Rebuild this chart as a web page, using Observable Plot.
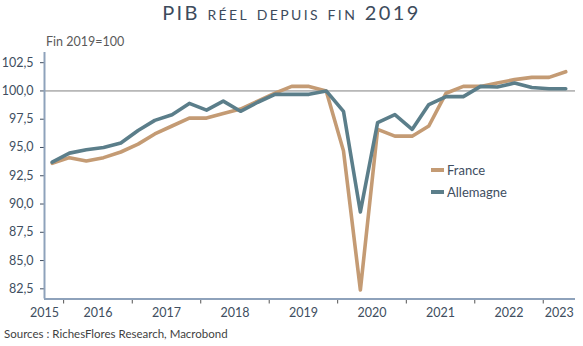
<!DOCTYPE html>
<html><head><meta charset="utf-8">
<script src="https://cdn.jsdelivr.net/npm/d3@7"></script>
<script src="https://cdn.jsdelivr.net/npm/@observablehq/plot@0.6"></script>
<style>
body{margin:0;background:#fff;}
#wrap{position:relative;width:583px;height:346px;overflow:hidden;font-family:Lato,"Open Sans",sans-serif;background:#fff;}
#chart{position:absolute;left:0;top:0;}
#title{position:absolute;left:0;top:0px;width:583px;text-align:center;font-family:Lato,sans-serif;font-size:20px;font-variant:small-caps;letter-spacing:2.4px;color:#3d4b5c;}
#sub{position:absolute;left:46px;top:34px;font-size:12.5px;color:#5a5a5a;}
#src{position:absolute;left:4px;top:327px;font-size:11.5px;color:#3f3f3f;}
.leg{position:absolute;left:431px;font-size:13px;color:#404e5f;display:flex;align-items:center;}
.leg span.sw{display:inline-block;width:13px;height:4px;margin-right:3px;}
</style>
</head><body>
<div id="wrap">
  <div id="chart"></div>
  <div id="title">PIB réel depuis fin 2019</div>
  <div id="sub">Fin 2019=100</div>
  <div id="src">Sources : RichesFlores Research, Macrobond</div>
  <div id="legend"></div>
</div>
<script>
const quarters = ["2015T4",
  "2016T1","2016T2","2016T3","2016T4",
  "2017T1","2017T2","2017T3","2017T4",
  "2018T1","2018T2","2018T3","2018T4",
  "2019T1","2019T2","2019T3","2019T4",
  "2020T1","2020T2","2020T3","2020T4",
  "2021T1","2021T2","2021T3","2021T4",
  "2022T1","2022T2","2022T3","2022T4",
  "2023T1","2023T2"];
const france = [93.6, 94.1, 93.8, 94.1, 94.6, 95.3, 96.2, 96.9, 97.6, 97.6, 98.0, 98.4, 99.1, 99.8, 100.4, 100.4,
  100.0, 94.7, 82.4, 96.6, 96.0, 96.0, 96.9, 99.8, 100.4, 100.4, 100.7, 101.0, 101.2, 101.2, 101.7];
const allemagne = [93.7, 94.5, 94.8, 95.0, 95.4, 96.5, 97.4, 97.9, 98.9, 98.3, 99.1, 98.2, 99.0, 99.7, 99.7, 99.7,
  100.0, 98.2, 89.3, 97.2, 97.9, 96.6, 98.8, 99.5, 99.5, 100.4, 100.35, 100.7, 100.3, 100.2, 100.2];
const seriesNames = ["France", "Allemagne"];
const seriesColors = ["#c49b74", "#5b7e8a"];
const yTicks = [82.5, 85, 87.5, 90, 92.5, 95, 97.5, 100, 102.5];
const axisYears = [2015, 2016, 2017, 2018, 2019, 2020, 2021, 2022, 2023];

const qDate = q => new Date(Date.UTC(+q.slice(0,4), (+q.slice(5) - 1) * 3 + 1, 1));
const rows = [];
quarters.forEach((q, i) => rows.push({date: qDate(q), value: france[i], serie: seriesNames[0]}));
quarters.forEach((q, i) => rows.push({date: qDate(q), value: allemagne[i], serie: seriesNames[1]}));

const x0 = new Date(Date.UTC(2015, 8, 21)), x1 = new Date(Date.UTC(2023, 5, 22));
const yDom = [81.6, 103.4];
const tickDates = axisYears.slice(1).map(y => new Date(Date.UTC(y, 0, 1)));
const labelDates = axisYears.map((y, i) => {
  if (i === 0) return x0;
  const a = Math.max(+new Date(Date.UTC(y, 0, 1)), +x0);
  const b = Math.min(+new Date(Date.UTC(y + 1, 0, 1)), +x1);
  return new Date((a + b) / 2);
});
const fmt = d => d.toFixed(1).replace(".", ",");
const axisCol = "#8ea2bb";
const textCol = "#404e60";

const plot = Plot.plot({
  width: 583, height: 346,
  marginTop: 52, marginBottom: 47.5, marginLeft: 44, marginRight: 8,
  style: {fontFamily: "Lato, sans-serif", fontSize: "12.5px", background: "transparent"},
  x: {type: "utc", domain: [x0, x1]},
  y: {domain: yDom},
  color: {domain: seriesNames, range: seriesColors},
  marks: [
    Plot.ruleY([100], {stroke: "#808080", strokeWidth: 1}),
    Plot.axisY({ticks: yTicks, tickFormat: fmt, tickSize: 4, tickPadding: 7, label: null, color: textCol}),
    Plot.axisX({ticks: tickDates, tickSize: 5, tickFormat: () => "", label: null, color: "#555"}),
    Plot.axisX(labelDates, {tickSize: 0, tickPadding: 9, tickFormat: d => String(d.getUTCFullYear()), label: null, color: textCol}),
    Plot.line(rows, {x: "date", y: "value", z: "serie", stroke: "serie", strokeWidth: 3.6}),
    Plot.ruleX([x0], {stroke: axisCol, strokeWidth: 2}),
    Plot.ruleY([yDom[0]], {stroke: axisCol, strokeWidth: 2})
  ]
});
document.getElementById("chart").appendChild(plot);

const leg = document.getElementById("legend");
seriesNames.forEach((n, i) => {
  const d = document.createElement("div");
  d.className = "leg";
  d.style.top = (162 + i * 22) + "px";
  d.innerHTML = `<span class="sw" style="background:${seriesColors[i]}"></span>${n}`;
  leg.appendChild(d);
});
</script>
</body></html>
